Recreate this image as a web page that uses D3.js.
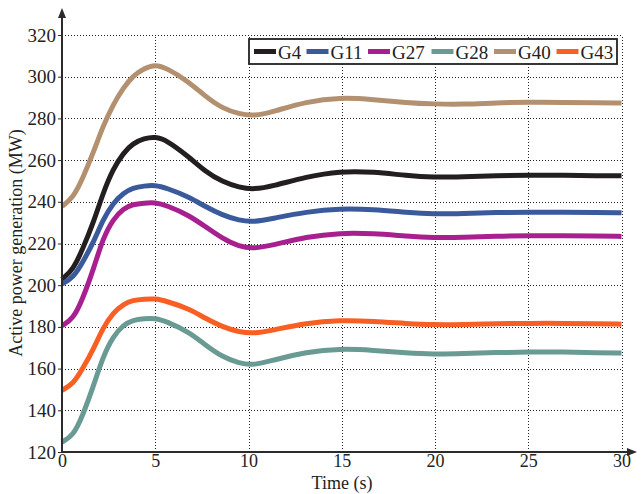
<!DOCTYPE html>
<html><head><meta charset="utf-8">
<script src="https://cdn.jsdelivr.net/npm/d3@7"></script>
<style>body{margin:0;background:#fff;} svg{display:block;}</style>
</head><body>
<script>
const time = [0, 0.6, 1.1, 1.7, 2.2, 2.75, 3.3, 3.8, 4.4, 5, 5.6, 6.8, 7.7, 8.6, 9.5, 10.3, 11.3, 13.1, 14.9, 16.7, 18.5, 19.9, 21.5, 23.3, 25.1, 26.9, 28.7, 30];
const seriesNames = ["G4", "G11", "G27", "G28", "G40", "G43"];
const G4  = [202.8, 207.5, 217.2, 230.4, 244.2, 256, 263.5, 268, 270.4, 271.2, 269.6, 261.6, 254.4, 249.6, 246.9, 245.9, 247.5, 252, 254.7, 254.4, 252.5, 251.7, 252, 252.5, 252.8, 252.8, 252.5, 252.5];
const G11 = [200.6, 203.6, 210.8, 220.8, 231.5, 239.5, 244.3, 246.7, 247.6, 248, 246.6, 242.4, 237.6, 233.6, 231, 230.3, 232, 235.2, 236.8, 236.3, 234.9, 234.1, 234.4, 234.9, 235, 235, 234.9, 234.7];
const G27 = [180.6, 183.8, 193.2, 208, 222.6, 231.8, 236.8, 238.8, 239.4, 239.7, 238.3, 233.6, 228, 222.4, 218.5, 217.6, 219.2, 223.2, 225.1, 224.8, 223.5, 222.8, 222.9, 223.5, 223.8, 223.7, 223.6, 223.4];
const G28 = [124.8, 127.8, 137.2, 152, 165.8, 175.6, 181, 183.3, 184, 184.2, 182.6, 177.6, 171.2, 165.6, 162.5, 161.6, 164, 168, 169.6, 168.8, 167.5, 166.9, 167.2, 167.7, 168, 168, 167.6, 167.5];
const G40 = [237.8, 242, 251, 264, 276.4, 286.8, 294.8, 300.4, 304, 305.9, 304.2, 297.6, 290.4, 284.8, 282.1, 281.1, 283.2, 288, 290.1, 289.1, 287.5, 286.9, 286.7, 287.5, 287.8, 287.7, 287.5, 287.4];
const G43 = [149.6, 152.6, 159.8, 169.6, 179.6, 186.9, 191, 192.8, 193.3, 193.6, 192.3, 188.8, 184, 180, 177.5, 176.8, 178.4, 181.9, 183.2, 182.7, 181.6, 181, 181.1, 181.6, 181.7, 181.7, 181.6, 181.3];
const seriesValues = [G4, G11, G27, G28, G40, G43];
const colors = ["#231f20", "#3a5a9c", "#a8208f", "#6a9a94", "#b39070", "#f95e23"];
const xTicks = [0, 5, 10, 15, 20, 25, 30];
const yTicks = [120, 140, 160, 180, 200, 220, 240, 260, 280, 300, 320];

const W = 642, H = 494;
const svg = d3.select("body").append("svg").attr("width", W).attr("height", H);
const x = d3.scaleLinear().domain([0, 30]).range([62, 621.5]);
const y = d3.scaleLinear().domain([120, 320]).range([452, 35]);
const font = "'Liberation Serif', 'Times New Roman', serif";

// grid
const grid = svg.append("g").attr("stroke", "#222").attr("stroke-width", 1).attr("stroke-dasharray", "1,2");
grid.selectAll("line.h").data(yTicks.slice(1)).join("line")
  .attr("x1", x(0)).attr("x2", x(30)).attr("y1", d => Math.round(y(d)) + 0.5).attr("y2", d => Math.round(y(d)) + 0.5);
grid.selectAll("line.v").data(xTicks.slice(1)).join("line")
  .attr("y1", y(120)).attr("y2", y(320)).attr("x1", d => Math.round(x(d)) + 0.5).attr("x2", d => Math.round(x(d)) + 0.5);

// lines
const line = d3.line().x((d, i) => x(time[i])).y(d => y(d)).curve(d3.curveBasis);
svg.append("g").selectAll("path").data(seriesValues).join("path")
  .attr("d", d => line(d)).attr("fill", "none")
  .attr("stroke", (d, i) => colors[i]).attr("stroke-width", 5).attr("stroke-linejoin", "round").attr("stroke-linecap", "butt");

// axes
const axCol = "#2b2b2b";
const yAxis = d3.axisLeft(y).tickValues(yTicks).tickSize(4).tickPadding(2).tickFormat(d3.format("d"));
const gy = svg.append("g").attr("transform", `translate(${x(0)},0)`).call(yAxis);
gy.select(".domain").remove();
gy.selectAll(".tick line").attr("stroke", axCol);
gy.selectAll("text").attr("font-family", font).attr("font-size", 19).attr("fill", "#222");
const xAxis = d3.axisBottom(x).tickValues(xTicks).tickSize(0).tickPadding(2).tickFormat(d3.format("d"));
const gx = svg.append("g").attr("transform", `translate(0,${y(120)})`).call(xAxis);
gx.select(".domain").remove();
gx.selectAll("text").attr("font-family", font).attr("font-size", 18).attr("fill", "#222").attr("dy", "0.72em");

svg.append("line").attr("x1", x(0)).attr("x2", x(0)).attr("y1", y(120) + 1).attr("y2", 14).attr("stroke", axCol).attr("stroke-width", 2);
svg.append("path").attr("d", `M${x(0)},8 L${x(0) - 4},18 L${x(0) + 4},18 Z`).attr("fill", axCol);
svg.append("line").attr("x1", x(0) - 1).attr("x2", 630).attr("y1", y(120)).attr("y2", y(120)).attr("stroke", axCol).attr("stroke-width", 2);
svg.append("path").attr("d", `M637,${y(120)} L627,${y(120) - 4} L627,${y(120) + 4} Z`).attr("fill", axCol);

// axis titles
svg.append("text").attr("x", 342).attr("y", 489).attr("text-anchor", "middle")
  .attr("font-family", font).attr("font-size", 18).attr("fill", "#222").text("Time (s)");
svg.append("text").attr("transform", `translate(22,${243}) rotate(-90)`).attr("text-anchor", "middle")
  .attr("font-family", font).attr("font-size", 18).attr("fill", "#222").text("Active power generation (MW)");

// legend
const lg = svg.append("g");
lg.append("rect").attr("x", 249).attr("y", 39).attr("width", 368).attr("height", 25)
  .attr("fill", "#fff").attr("stroke", "#222").attr("stroke-width", 1.8);
const starts = [254, 306.5, 368, 431.5, 494, 556.5];
seriesNames.forEach((n, i) => {
  lg.append("line").attr("x1", starts[i]).attr("x2", starts[i] + 22).attr("y1", 51.5).attr("y2", 51.5)
    .attr("stroke", colors[i]).attr("stroke-width", 5);
  lg.append("text").attr("x", starts[i] + 24).attr("y", 58.5).attr("font-family", font).attr("font-size", 19)
    .attr("fill", "#222").text(n);
});
</script>
</body></html>
